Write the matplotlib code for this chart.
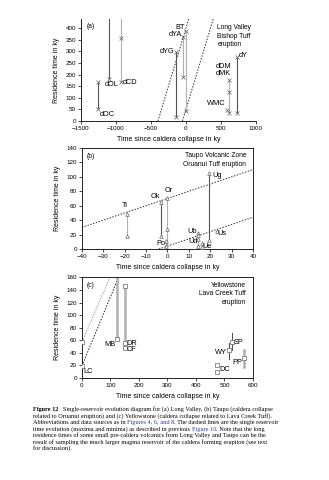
import matplotlib
matplotlib.use("Agg")
import matplotlib.pyplot as plt
from matplotlib.text import Annotation

plt.rcParams['font.family'] = ['Liberation Sans', 'DejaVu Sans']

#Panel (a) Long Valley - samples, x position and residence times (ky)
a_names = ['dOC', 'dOL', 'dCD', 'dYG', 'dYA', 'BT', 'WMC', 'dMK', 'dY']
a_time = [-1250, -1100, -925, -145, -40, 0, 585, 615, 735]
a_marks = [[170, 50], [181], [358, 169], [298, 18], [364, 188], [390, 45], [47], [176, 124, 35], [278, 33]]
a_low = [50, 181, 169, 18, 188, 45, None, 35, 33]
a_high = [170, 440, 440, 298, 364, 390, None, 176, 278]
a_dark = [True, True, False, True, False, False, False, False, True]
#labels: text, x, y, alignment
a_labels = [('dOC', -1235, 30, 'left'), ('dOL', -1160, 158, 'left'), ('dCD', -900, 165, 'left'),
            ('dYG', -165, 300, 'right'), ('dYA', -55, 372, 'right'), ('BT', -10, 405, 'right'),
            ('WMC', 560, 75, 'right'), ('dDM', 425, 234, 'left'), ('dMK', 425, 204, 'left'),
            ('dY', 750, 282, 'left')]
#single reservoir lines (x start, x end, y start, y end)
a_dash = [(-400, 40, 0, 440), (-50, 390, 0, 440)]

#Panel (b) Taupo
b_time = [-19, -3, 0, -0.5, 19.5, 14.5, 14.5, 16, 23]
b_marks = [[49, 18], [65, 18], [70, 27], [11, 4], [105, 12], [22, 19], [14, 4], [8, 3], [25]]
b_low = [18, 18, 4, 4, 12, 19, 4, 3, None]
b_high = [49, 65, 70, 11, 105, 22, 14, 8, None]
b_dark = [False, True, False, False, True, False, False, False, False]
b_labels = [('Ti', -20, 60, 'center'), ('Ok', -5.5, 73, 'center'), ('Or', 0.5, 81, 'center'),
            ('Po', -0.8, 8, 'right'), ('Ug', 21, 102, 'left'), ('Us', 23.5, 22, 'left'),
            ('Ub', 13.8, 24, 'right'), ('Ud', 14, 10, 'right'), ('Ue', 16.5, 3, 'left')]
b_dash = [(-40, 40, 30, 110), (-4, 40, 0, 44)]

#Panel (c) Yellowstone
c_time = [0, 122, 152, 152, 474, 516, 527, 569]
c_marks = [[58, 19], [62], [147, 56], [48], [21, 9], [44], [57], [32]]
c_low = [None, 62, 56, None, None, 30, 44, 18]
c_high = [None, 160, 147, None, None, 56, 72, 45]
c_dark = [False, False, False, False, False, True, True, False]
c_thick = [False, True, True, False, False, False, False, True]
c_labels = [('LC', 5, 10, 'left'), ('MB', 117, 54, 'right'), ('DR', 157, 55, 'left'),
            ('CF', 157, 45, 'left'), ('DC', 482, 13, 'left'), ('WY', 508, 41, 'right'),
            ('SP', 533, 57, 'left'), ('PP', 563, 25, 'right')]
c_dash = [(0, 98, 57, 160), (0, 128, 19, 160)]
c_dash_col = ['#999999', '#222222']

fig = plt.figure(figsize=(3.29, 4.80), dpi=100)

axA = fig.add_axes([0.246, 0.748, 0.532, 0.2125])
axB = fig.add_axes([0.249, 0.4813, 0.520, 0.2104])
axC = fig.add_axes([0.249, 0.2125, 0.520, 0.2094])

dark = '#555555'
light = '#b0b0b0'


def draw_panel(ax, xs, marks, lows, highs, darks, marker, ms, thick=None):
    for i in range(len(xs)):
        if lows[i] is not None:
            lw = 0.8
            col = dark if darks[i] else light
            if thick is not None and thick[i]:
                lw = 1.8
            ax.plot([xs[i], xs[i]], [lows[i], highs[i]], color=col, lw=lw, zorder=2)
        ax.plot([xs[i]] * len(marks[i]), marks[i], linestyle='none', marker=marker,
                markersize=ms, markerfacecolor='white', markeredgecolor='#666666',
                markeredgewidth=0.5, zorder=3)


#Panel a
for d in a_dash:
    axA.plot([d[0], d[1]], [d[2], d[3]], color='#333333', lw=0.7, linestyle=(0, (1.5, 1.5)))
draw_panel(axA, a_time, a_marks, a_low, a_high, a_dark, 'x', 3.0)
for t in a_labels:
    axA.text(t[1], t[2], t[0], ha=t[3], va='center', fontsize=5.3)
axA.set_xlim(-1500, 1000)
axA.set_ylim(0, 440)
axA.set_xticks([-1500, -1000, -500, 0, 500, 1000])
axA.set_yticks(range(0, 401, 50))
axA.spines['top'].set_visible(False)
axA.spines['right'].set_visible(False)
axA.text(0.03, 0.96, '(a)', transform=axA.transAxes, fontsize=4.8, va='top')
axA.text(0.78, 0.95, 'Long Valley\nBishop Tuff\neruption', transform=axA.transAxes,
         fontsize=4.8, va='top', ha='left', linespacing=1.3)

#Panel b
for d in b_dash:
    axB.plot([d[0], d[1]], [d[2], d[3]], color='#333333', lw=0.7, linestyle=(0, (1.5, 1.5)))
draw_panel(axB, b_time, b_marks, b_low, b_high, b_dark, '^', 2.6)
for t in b_labels:
    axB.text(t[1], t[2], t[0], ha=t[3], va='center', fontsize=5.3)
axB.set_xlim(-40, 40)
axB.set_ylim(0, 140)
axB.set_xticks(range(-40, 41, 10))
axB.set_yticks(range(0, 141, 20))
axB.text(0.03, 0.95, '(b)', transform=axB.transAxes, fontsize=4.8, va='top')
axB.text(0.96, 0.96, 'Taupo Volcanic Zone\nOruanui Tuff eruption', transform=axB.transAxes,
         fontsize=4.8, va='top', ha='right', linespacing=1.3)

#Panel c
for i in range(len(c_dash)):
    d = c_dash[i]
    axC.plot([d[0], d[1]], [d[2], d[3]], color=c_dash_col[i], lw=0.7, linestyle=(0, (1.5, 1.5)))
draw_panel(axC, c_time, c_marks, c_low, c_high, c_dark, 's', 2.4, c_thick)
for t in c_labels:
    axC.text(t[1], t[2], t[0], ha=t[3], va='center', fontsize=5.3)
axC.set_xlim(0, 600)
axC.set_ylim(0, 160)
axC.set_xticks(range(0, 601, 100))
axC.set_yticks(range(0, 161, 20))
axC.text(0.03, 0.96, '(c)', transform=axC.transAxes, fontsize=4.8, va='top')
axC.text(0.96, 0.96, 'Yellowstone\nLava Creek Tuff\neruption', transform=axC.transAxes,
         fontsize=4.8, va='top', ha='right', linespacing=1.3)

for ax in [axA, axB, axC]:
    ax.tick_params(labelsize=4.5, length=2, width=0.5, pad=1.5)
    for s in ax.spines.values():
        s.set_linewidth(0.6)
    ax.set_xlabel('Time since caldera collapse in ky', fontsize=5, labelpad=4)
    ax.set_ylabel('Residence time in ky', fontsize=5, labelpad=4)

#Caption, line by line (pieces chained so the blue links sit inline)
cap_font = ['Liberation Serif', 'DejaVu Serif']
cap_size = 4.5
blue = '#2b3a9a'
cap_lines = [
    [('Figure 12', 'k', 'bold'), ('   Single-reservoir evolution diagram for (a) Long Valley, (b) Taupo (caldera collapse', 'k', 'normal')],
    [('related to Oruanui eruption) and (c) Yellowstone (caldera collapse related to Lava Creek Tuff).', 'k', 'normal')],
    [('Abbreviations and data sources as in ', 'k', 'normal'), ('Figures 4, 6, and 8', blue, 'normal'),
     ('. The dashed lines are the single reservoir', 'k', 'normal')],
    [('time evolution (maxima and minima) as described in previous ', 'k', 'normal'), ('Figure 10', blue, 'normal'),
     ('. Note that the long', 'k', 'normal')],
    [('residence times of some small pre-caldera volcanics from Long Valley and Taupo can be the', 'k', 'normal')],
    [('result of sampling the much larger magma reservoir of the caldera forming eruption (see text', 'k', 'normal')],
    [('for discussion).', 'k', 'normal')],
]
y0 = 1 - 410 / 480
step = 6.4 / 480
for n in range(len(cap_lines)):
    last = None
    for piece in cap_lines[n]:
        if last is None:
            last = fig.text(33 / 329, y0 - n * step, piece[0], color=piece[1], fontweight=piece[2],
                            family=cap_font, fontsize=cap_size, va='center', ha='left')
        else:
            last = fig.add_artist(Annotation(piece[0], xy=(1, 0), xycoords=last, va='bottom', ha='left',
                                             color=piece[1], fontweight=piece[2], family=cap_font,
                                             fontsize=cap_size))

fig.savefig('out.png', dpi=100)
